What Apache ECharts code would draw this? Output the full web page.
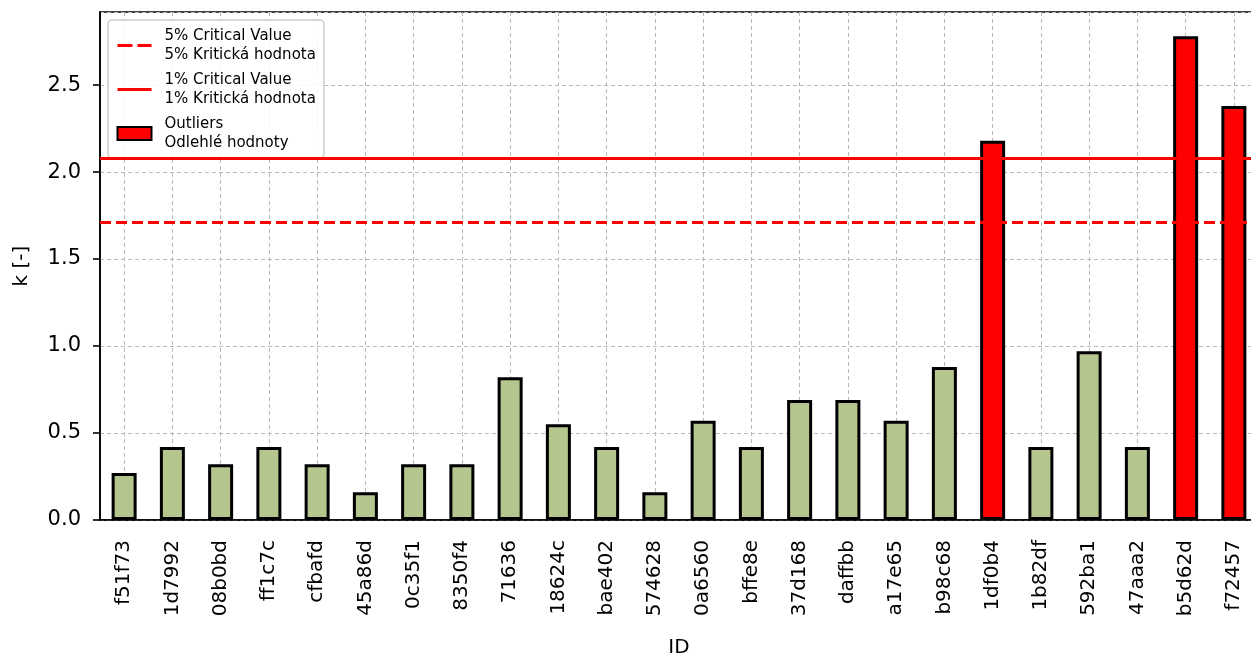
<!DOCTYPE html>
<html>
<head>
<meta charset="utf-8">
<script src="https://cdn.jsdelivr.net/npm/echarts@6/dist/echarts.min.js"></script>
<style>
  html, body { margin: 0; padding: 0; background: #fff; }
  #chart { width: 1251px; height: 660px; }
</style>
</head>
<body>
<div id="chart"></div>
<script>
// Data
const ids = [
  "f51f73", "1d7992", "08b0bd", "ff1c7c", "cfbafd", "45a86d", "0c35f1", "8350f4",
  "71636", "18624c", "bae402", "574628", "0a6560", "bffe8e", "37d168", "daffbb",
  "a17e65", "b98c68", "1df0b4", "1b82df", "592ba1", "47aaa2", "b5d62d", "f72457"
];
const kValues = [
  0.27, 0.42, 0.32, 0.42, 0.32, 0.16, 0.32, 0.32,
  0.82, 0.55, 0.42, 0.16, 0.57, 0.42, 0.69, 0.69,
  0.57, 0.88, 2.18, 0.42, 0.97, 0.42, 2.78, 2.38
];
const crit5 = 1.71; // 5% critical value
const crit1 = 2.08; // 1% critical value
const yTicks = [0, 0.5, 1.0, 1.5, 2.0, 2.5];

const name5 = "5% Critical Value\n5% Kritická hodnota";
const name1 = "1% Critical Value\n1% Kritická hodnota";
const nameOut = "Outliers\nOdlehlé hodnoty";

const font = "DejaVu Sans";
const chart = echarts.init(document.getElementById("chart"), null, { renderer: "canvas" });

const inliers = kValues.map((v) => (v > crit1 ? null : v));
const outliers = kValues.map((v) => (v > crit1 ? v : null));

const dash = [11, 5];

const option = {
  animation: false,
  textStyle: { fontFamily: font, color: "#000" },
  grid: {
    left: 100,
    right: -7,
    top: 12,
    bottom: 140,
    outerBoundsMode: "none",
    containLabel: false,
    show: true,
    borderColor: "#000",
    borderWidth: 1.6,
    backgroundColor: "transparent",
  },
  legend: {
    orient: "vertical",
    left: 108,
    top: 20,
    padding: [7, 8, 6, 8],
    itemGap: 7,
    itemWidth: 34,
    itemHeight: 13,
    backgroundColor: "rgba(255,255,255,0.85)",
    borderColor: "#cccccc",
    borderWidth: 1.5,
    borderRadius: 4,
    data: [
      {
        name: name5,
        itemStyle: { opacity: 0 },
        lineStyle: { color: "#ff0000", width: 3, type: [15, 5] },
      },
      {
        name: name1,
        itemStyle: { opacity: 0 },
        lineStyle: { color: "#ff0000", width: 3, type: "solid" },
      },
      { name: nameOut, icon: "rect" },
    ],
    textStyle: {
      fontFamily: font,
      fontSize: 15,
      lineHeight: 18.5,
      color: "#000",
      padding: [0, 0, 0, 8],
    },
  },
  xAxis: {
    type: "category",
    data: ids,
    name: "ID",
    nameLocation: "middle",
    nameGap: 118,
    nameTextStyle: { fontFamily: font, fontSize: 20, color: "#000" },
    axisLine: { lineStyle: { color: "#000", width: 1.6 } },
    axisTick: { alignWithLabel: true, length: 7, lineStyle: { color: "#000", width: 1.6 } },
    axisLabel: { rotate: 90, margin: 20, fontSize: 20, color: "#000", interval: 0 },
    splitLine: {
      show: true,
      alignWithLabel: true,
      lineStyle: { color: "#b8b8b8", width: 1, type: [4, 3] },
    },
  },
  yAxis: {
    type: "value",
    min: 0,
    max: 2.92,
    interval: 0.5,
    name: "k [-]",
    nameLocation: "middle",
    nameGap: 68,
    nameTextStyle: { fontFamily: font, fontSize: 20, color: "#000" },
    axisLine: { show: true, lineStyle: { color: "#000", width: 1.6 } },
    axisTick: { show: true, length: 7, lineStyle: { color: "#000", width: 1.6 } },
    axisLabel: {
      fontSize: 21,
      color: "#000",
      margin: 19,
      showMaxLabel: false,
      formatter: (v) => (yTicks.includes(v) ? v.toFixed(1) : ""),
    },
    splitLine: { lineStyle: { color: "#b8b8b8", width: 1, type: [4, 3] } },
  },
  series: [
    {
      name: "k",
      type: "bar",
      data: inliers,
      barWidth: 25,
      barGap: "-100%",
      itemStyle: { color: "#b4c68e", borderColor: "#000", borderWidth: 3 },
      z: 2,
    },
    {
      name: nameOut,
      type: "bar",
      data: outliers,
      barWidth: 25,
      barGap: "-100%",
      itemStyle: { color: "#ff0000", borderColor: "#000", borderWidth: 3 },
      z: 2,
    },
    {
      name: name5,
      type: "line",
      data: [],
      symbol: "none",
      symbolSize: 0,
      showSymbol: false,
      lineStyle: { color: "#ff0000", width: 3, type: dash },
      itemStyle: { color: "#ff0000" },
      markLine: {
        silent: true,
        symbol: "none",
        label: { show: false },
        lineStyle: { color: "#ff0000", width: 3, type: dash },
        data: [{ yAxis: crit5 }],
      },
      z: 3,
    },
    {
      name: name1,
      type: "line",
      data: [],
      symbol: "none",
      symbolSize: 0,
      showSymbol: false,
      lineStyle: { color: "#ff0000", width: 3, type: "solid" },
      itemStyle: { color: "#ff0000" },
      markLine: {
        silent: true,
        symbol: "none",
        label: { show: false },
        lineStyle: { color: "#ff0000", width: 3, type: "solid" },
        data: [{ yAxis: crit1 }],
      },
      z: 3,
    },
  ],
};

chart.setOption(option);
</script>
</body>
</html>
